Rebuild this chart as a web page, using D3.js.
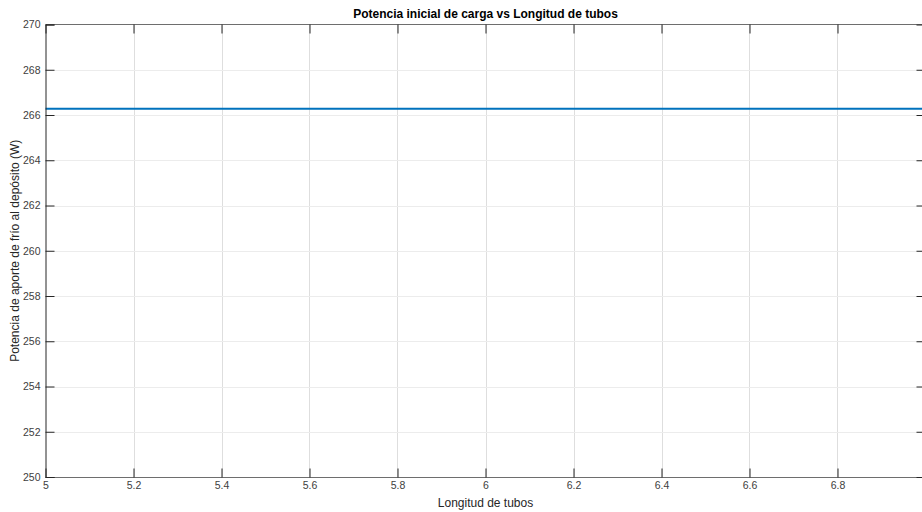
<!DOCTYPE html>
<html>
<head>
<meta charset="utf-8">
<script src="https://cdn.jsdelivr.net/npm/d3@7"></script>
<style>
  html, body { margin: 0; padding: 0; background: #fff; }
  svg { display: block; font-family: "Liberation Sans", Arial, sans-serif; }
</style>
</head>
<body>
<svg id="chart" width="922" height="512"></svg>
<script>
// Tube length (x) and initial cold power delivered to the tank (y)
const longitud = [5, 7];
const potencia = [266.28, 266.28];
const xTicks = [5, 5.2, 5.4, 5.6, 5.8, 6, 6.2, 6.4, 6.6, 6.8, 7];
const yTicks = [250, 252, 254, 256, 258, 260, 262, 264, 266, 268, 270];

const titulo = "Potencia inicial de carga vs Longitud de tubos";
const etiquetaX = "Longitud de tubos";
const etiquetaY = "Potencia de aporte de frío al depósito (W)";

const svg = d3.select("#chart");
const mLeft = 45.5, mRight = 925.5, mTop = 24.5, mBottom = 477;

const x = d3.scaleLinear().domain([5, 7]).range([mLeft, mRight]);
const y = d3.scaleLinear().domain([250, 270]).range([mBottom, mTop]);

// grid
const grid = svg.append("g");
grid.selectAll("line.gx").data(xTicks.slice(1, -1)).join("line")
  .attr("x1", d => Math.round(x(d)) + 0.5).attr("x2", d => Math.round(x(d)) + 0.5)
  .attr("y1", mTop).attr("y2", mBottom)
  .attr("stroke", "#dedede").attr("stroke-width", 1);
grid.selectAll("line.gy").data(yTicks.slice(1, -1)).join("line")
  .attr("y1", d => Math.round(y(d)) + 0.5).attr("y2", d => Math.round(y(d)) + 0.5)
  .attr("x1", mLeft).attr("x2", mRight)
  .attr("stroke", "#ececec").attr("stroke-width", 1);

// data line
svg.append("path")
  .datum(longitud.map((v, i) => [v, potencia[i]]))
  .attr("fill", "none")
  .attr("stroke", "#0072BD")
  .attr("stroke-width", 2)
  .attr("d", d3.line().x(d => x(d[0])).y(d => y(d[1])));

// box
svg.append("line").attr("x1", mLeft).attr("x2", mRight).attr("y1", mTop).attr("y2", mTop)
  .attr("stroke", "#6e6e6e").attr("stroke-width", 1);
svg.append("line").attr("x1", mLeft).attr("x2", mRight).attr("y1", mBottom + 0.5).attr("y2", mBottom + 0.5)
  .attr("stroke", "#6e6e6e").attr("stroke-width", 1);

// axes with inward ticks; the last x label falls outside the window
const xAxis = d3.axisBottom(x).tickValues(xTicks).tickSize(-9).tickPadding(4)
  .tickFormat(d => d === 7 ? "" : d3.format("")(d));
const gx = svg.append("g").attr("transform", `translate(0,${mBottom + 0.5})`).call(xAxis);
gx.select(".domain").remove();

const xTop = d3.axisTop(x).tickValues(xTicks).tickSize(-9).tickFormat("");
const gxt = svg.append("g").attr("transform", `translate(0,${mTop})`).call(xTop);
gxt.select(".domain").remove();

const yAxis = d3.axisLeft(y).tickValues(yTicks).tickSize(-9).tickPadding(5);
const gy = svg.append("g").attr("transform", `translate(${mLeft},0)`).call(yAxis);
gy.select(".domain").attr("stroke", "#262626");

const yRight = d3.axisRight(y).tickValues(yTicks).tickSize(-9).tickFormat("");
const gyr = svg.append("g").attr("transform", `translate(${mRight},0)`).call(yRight);
gyr.select(".domain").remove();

svg.selectAll(".tick line").attr("stroke", "#262626");
svg.selectAll(".tick text").attr("fill", "#404040").attr("font-size", 10.5)
  .attr("font-family", "'Liberation Sans', Arial, sans-serif");

// title and labels
svg.append("text").attr("x", (mLeft + mRight) / 2).attr("y", 18)
  .attr("text-anchor", "middle").attr("font-weight", "bold").attr("font-size", 12)
  .attr("fill", "#000").text(titulo);
svg.append("text").attr("x", (mLeft + mRight) / 2).attr("y", 507)
  .attr("text-anchor", "middle").attr("font-size", 12)
  .attr("fill", "#262626").text(etiquetaX);
svg.append("text").attr("transform", `translate(19,${(mTop + mBottom) / 2}) rotate(-90)`)
  .attr("text-anchor", "middle").attr("font-size", 12)
  .attr("fill", "#262626").text(etiquetaY);
</script>
</body>
</html>
